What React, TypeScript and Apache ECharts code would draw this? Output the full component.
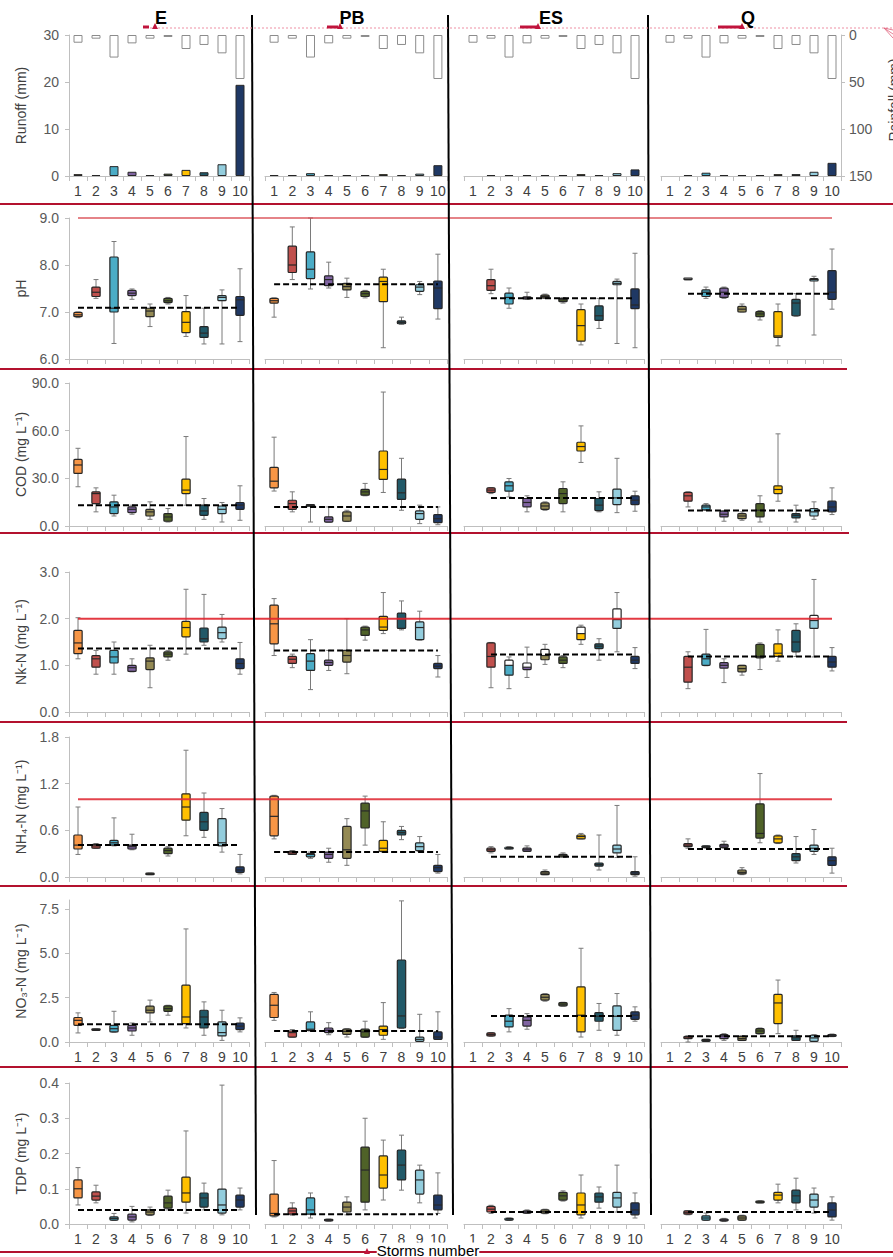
import React, { useEffect, useRef } from "react";
import * as echarts from "echarts";

const FONT = '"Liberation Sans", Arial, Helvetica, sans-serif';

const storms = ["1", "2", "3", "4", "5", "6", "7", "8", "9", "10"];
const sites = ["E", "PB", "ES", "Q"];
const stormColors = ["#F79646", "#C0504D", "#4BACC6", "#8064A2", "#948A54", "#4F6228", "#FFC000", "#215968", "#93CDDD", "#1F3864"];

// Rainfall (mm) per storm, runoff (mm) per site
const rainfall = [8.2, 3.9, 24, 8.9, 3.9, 2.1, 14.9, 10.6, 19.5, 46.8];
const runoffE = [0.4, 0.2, 2.1, 0.9, 0.2, 0.5, 1.3, 0.8, 2.5, 19.4];
const runoffPB = [0.2, 0.2, 0.6, 0.2, 0.2, 0.2, 0.4, 0.2, 0.5, 2.3];
const runoffES = [null, 0.2, 0.2, 0.2, 0.2, 0.2, 0.4, 0.2, 0.6, 1.4];
const runoffQ = [null, 0.2, 0.7, 0.2, 0.2, 0.2, 0.4, 0.4, 0.9, 2.8];

type B = number[] | null; // [low, q1, median, q3, high]

const pH_E: B[] = [[6.88, 6.9, 6.94, 6.99, 7.0], [7.29, 7.33, 7.42, 7.53, 7.69], [6.33, 7.0, 7.08, 8.17, 8.5], [7.27, 7.35, 7.4, 7.46, 7.49], [6.69, 6.9, 7.02, 7.08, 7.17], [7.17, 7.2, 7.24, 7.29, 7.31], [6.48, 6.56, 6.78, 7.01, 7.35], [6.32, 6.46, 6.55, 6.69, 7.08], [6.32, 7.24, 7.31, 7.35, 7.47], [6.37, 6.93, 7.26, 7.33, 7.92]];
const pH_PB: B[] = [[6.89, 7.19, 7.24, 7.29, 7.3], [7.69, 7.84, 8.0, 8.4, 8.81], [7.49, 7.71, 7.91, 8.28, 9.0], [7.51, 7.56, 7.69, 7.77, 8.06], [7.31, 7.47, 7.54, 7.61, 7.72], [7.3, 7.33, 7.39, 7.44, 7.46], [6.24, 7.22, 7.65, 7.74, 7.91], [6.74, 6.75, 6.78, 6.81, 6.89], [7.37, 7.44, 7.53, 7.58, 7.65], [6.85, 7.07, 7.51, 7.66, 8.23]];
const pH_ES: B[] = [null, [7.39, 7.46, 7.56, 7.69, 7.91], [7.08, 7.17, 7.31, 7.4, 7.51], [7.27, 7.28, 7.3, 7.32, 7.42], [7.29, 7.3, 7.33, 7.36, 7.38], [7.19, 7.22, 7.26, 7.29, 7.3], [6.3, 6.38, 6.71, 7.05, 7.17], [6.65, 6.82, 6.92, 7.13, 7.29], [6.33, 7.58, 7.61, 7.65, 7.7], [6.24, 7.07, 7.15, 7.49, 8.25]];
const pH_Q: B[] = [null, [7.69, 7.69, 7.69, 7.69, 7.69], [7.29, 7.33, 7.42, 7.47, 7.53], [7.29, 7.31, 7.42, 7.51, 7.53], [7.0, 7.0, 7.06, 7.12, 7.17], [6.83, 6.9, 6.96, 7.01, 7.03], [6.28, 6.46, 6.49, 7.01, 7.17], [6.91, 6.92, 7.19, 7.27, 7.39], [6.51, 7.66, 7.69, 7.71, 7.76], [7.06, 7.27, 7.42, 7.88, 8.34]];

const cod_E: B[] = [[24.7, 33.1, 38.4, 41.9, 48.9], [8.9, 14.1, 20.4, 21.5, 24.0], [6.3, 7.8, 12.0, 15.2, 19.4], [7.4, 8.4, 10.5, 12.0, 13.1], [4.2, 6.3, 8.9, 10.5, 15.2], [2.5, 3.0, 5.7, 7.8, 11.0], [13.1, 20.4, 22.6, 29.5, 56.3], [4.2, 6.7, 9.5, 13.1, 17.3], [2.5, 7.8, 10.5, 12.6, 14.8], [3.6, 10.5, 13.1, 14.8, 25.3]];
const cod_PB: B[] = [[22.0, 24.0, 28.2, 36.9, 55.9], [8.9, 10.5, 14.1, 16.2, 21.5], [2.5, 12.5, 12.8, 13.1, 13.1], [2.5, 2.5, 4.2, 5.7, 12.0], [2.8, 3.0, 6.3, 8.9, 9.9], [19.0, 19.4, 21.5, 23.0, 26.8], [21.1, 29.3, 35.6, 47.2, 84.3], [9.9, 16.7, 20.9, 29.5, 42.6], [1.5, 4.2, 7.8, 9.5, 13.1], [0.8, 2.1, 4.6, 7.2, 12.0]];
const cod_ES: B[] = [null, [20.4, 21.1, 22.6, 24.0, 24.2], [18.3, 21.9, 25.3, 27.8, 29.9], [8.9, 12.0, 14.8, 17.3, 19.0], [9.9, 10.5, 12.6, 14.5, 15.2], [8.9, 14.1, 20.4, 23.6, 27.8], [40.0, 47.2, 50.0, 52.7, 63.0], [8.9, 9.7, 13.1, 17.3, 21.5], [8.4, 13.5, 17.7, 23.2, 42.6], [9.3, 13.5, 16.2, 19.0, 21.9]];
const cod_Q: B[] = [null, [12.0, 15.6, 19.0, 21.1, 21.5], [9.9, 10.2, 12.0, 13.1, 14.1], [3.0, 5.7, 7.4, 9.3, 9.5], [3.6, 4.6, 6.3, 7.8, 8.9], [2.5, 5.7, 9.9, 14.1, 19.0], [15.6, 20.4, 23.0, 25.3, 58.0], [2.5, 5.1, 6.7, 7.8, 13.1], [4.2, 6.3, 8.9, 11.0, 15.2], [7.2, 8.9, 12.0, 15.6, 24.0]];

const nk_E: B[] = [[1.14, 1.25, 1.48, 1.75, 2.02], [0.81, 0.96, 1.14, 1.21, 1.32], [0.81, 1.05, 1.18, 1.32, 1.5], [0.86, 0.87, 0.95, 1.0, 1.14], [0.52, 0.91, 1.09, 1.16, 1.43], [1.11, 1.18, 1.24, 1.29, 1.32], [1.24, 1.61, 1.81, 1.94, 2.63], [1.43, 1.5, 1.57, 1.8, 2.52], [1.5, 1.57, 1.7, 1.82, 2.09], [0.81, 0.93, 1.04, 1.14, 1.49]];
const nk_PB: B[] = [[1.21, 1.46, 1.89, 2.29, 2.43], [0.95, 1.04, 1.13, 1.19, 1.24], [0.48, 0.89, 1.09, 1.25, 1.55], [0.89, 1.0, 1.06, 1.11, 1.32], [0.82, 1.07, 1.21, 1.32, 2.0], [1.54, 1.64, 1.76, 1.82, 1.84], [1.68, 1.75, 1.82, 2.05, 2.56], [1.76, 1.79, 2.0, 2.12, 2.38], [1.54, 1.55, 1.81, 1.93, 2.16], [0.75, 0.93, 0.98, 1.04, 1.21]];
const nk_ES: B[] = [null, [0.52, 0.96, 1.19, 1.48, 1.49], [0.5, 0.79, 1.0, 1.11, 1.18], [0.74, 0.91, 0.96, 1.05, 1.39], [1.02, 1.12, 1.21, 1.34, 1.45], [0.95, 1.04, 1.11, 1.18, 1.21], [1.45, 1.55, 1.68, 1.82, 1.86], [1.11, 1.36, 1.41, 1.46, 1.57], [1.29, 1.79, 1.98, 2.21, 2.56], [0.93, 1.04, 1.11, 1.19, 1.38]];
const nk_Q: B[] = [null, [0.5, 0.64, 0.96, 1.19, 1.29], [0.99, 1.0, 1.14, 1.24, 1.77], [0.63, 0.94, 1.0, 1.06, 1.14], [0.79, 0.86, 0.93, 1.0, 1.0], [0.91, 1.16, 1.19, 1.45, 1.48], [1.09, 1.19, 1.26, 1.46, 1.76], [1.19, 1.29, 1.5, 1.75, 1.89], [1.18, 1.79, 1.96, 2.07, 2.84], [0.88, 0.96, 1.07, 1.19, 1.38]];

const nh4_E: B[] = [[0.29, 0.36, 0.41, 0.54, 0.9], [0.37, 0.37, 0.4, 0.42, 0.43], [0.4, 0.41, 0.44, 0.47, 0.76], [0.35, 0.36, 0.39, 0.41, 0.55], [0.03, 0.03, 0.04, 0.05, 0.05], [0.27, 0.3, 0.34, 0.37, 0.39], [0.53, 0.73, 0.9, 1.07, 1.63], [0.51, 0.6, 0.71, 0.83, 1.08], [0.32, 0.4, 0.44, 0.75, 0.88], [0.04, 0.06, 0.09, 0.13, 0.29]];
const nh4_PB: B[] = [[0.49, 0.53, 0.78, 1.04, 1.05], [0.29, 0.29, 0.31, 0.33, 0.34], [0.24, 0.26, 0.29, 0.3, 0.32], [0.19, 0.24, 0.29, 0.32, 0.37], [0.15, 0.24, 0.35, 0.65, 0.75], [0.41, 0.63, 0.85, 0.95, 1.04], [0.32, 0.33, 0.37, 0.47, 0.71], [0.48, 0.54, 0.57, 0.6, 0.65], [0.33, 0.34, 0.39, 0.44, 0.52], [0.05, 0.07, 0.12, 0.15, 0.29]];
const nh4_ES: B[] = [null, [0.31, 0.33, 0.35, 0.37, 0.39], [0.36, 0.36, 0.37, 0.38, 0.39], [0.33, 0.33, 0.35, 0.37, 0.4], [0.03, 0.03, 0.05, 0.07, 0.09], [0.26, 0.26, 0.28, 0.29, 0.31], [0.49, 0.49, 0.52, 0.54, 0.56], [0.09, 0.14, 0.16, 0.18, 0.54], [0.25, 0.31, 0.36, 0.41, 0.92], [0.01, 0.03, 0.05, 0.07, 0.26]];
const nh4_Q: B[] = [null, [0.37, 0.39, 0.41, 0.43, 0.49], [0.37, 0.38, 0.39, 0.4, 0.4], [0.37, 0.38, 0.4, 0.42, 0.46], [0.03, 0.04, 0.06, 0.09, 0.12], [0.44, 0.5, 0.56, 0.94, 1.33], [0.43, 0.44, 0.49, 0.53, 0.54], [0.18, 0.21, 0.26, 0.3, 0.52], [0.29, 0.33, 0.37, 0.41, 0.61], [0.05, 0.15, 0.21, 0.26, 0.37]];

const no3_E: B[] = [[0.51, 0.94, 1.22, 1.38, 1.64], [0.66, 0.66, 0.7, 0.73, 0.73], [0.55, 0.57, 0.75, 0.94, 1.73], [0.38, 0.62, 0.79, 0.94, 1.07], [1.13, 1.64, 1.79, 2.02, 2.36], [1.51, 1.73, 1.88, 2.04, 2.07], [0.79, 1.04, 1.41, 3.2, 6.37], [0.38, 0.79, 1.41, 1.79, 2.26], [0.09, 0.34, 0.53, 1.13, 1.79], [0.57, 0.7, 0.89, 1.07, 1.36]];
const no3_PB: B[] = [[1.22, 1.38, 2.07, 2.68, 2.79], [0.28, 0.28, 0.53, 0.62, 0.7], [0.62, 0.66, 0.72, 1.13, 1.7], [0.41, 0.53, 0.66, 0.79, 1.09], [0.28, 0.43, 0.6, 0.72, 0.75], [0.26, 0.28, 0.57, 0.72, 1.17], [0.15, 0.38, 0.7, 0.9, 2.22], [0.77, 0.79, 1.47, 4.62, 7.95], [0.03, 0.04, 0.15, 0.28, 1.56], [0.15, 0.15, 0.28, 0.57, 1.7]];
const no3_ES: B[] = [null, [0.32, 0.34, 0.43, 0.51, 0.53], [0.57, 0.85, 1.17, 1.51, 1.88], [0.72, 0.9, 1.22, 1.41, 1.6], [2.3, 2.36, 2.52, 2.68, 2.72], [2.02, 2.04, 2.13, 2.22, 2.24], [0.28, 0.57, 1.51, 3.11, 5.28], [0.66, 1.17, 1.45, 1.66, 2.17], [0.38, 0.66, 1.45, 2.04, 2.73], [1.17, 1.28, 1.51, 1.7, 1.98]];
const no3_Q: B[] = [null, [0.0, 0.19, 0.28, 0.32, 0.34], [0.03, 0.04, 0.09, 0.15, 0.15], [0.09, 0.19, 0.34, 0.41, 0.47], [0.08, 0.09, 0.19, 0.32, 0.34], [0.45, 0.47, 0.62, 0.75, 0.79], [0.47, 1.04, 2.2, 2.68, 3.49], [0.09, 0.09, 0.24, 0.34, 0.66], [0.03, 0.04, 0.23, 0.38, 0.41], [0.3, 0.32, 0.38, 0.41, 0.45]];

const tdp_E: B[] = [[0.054, 0.074, 0.1, 0.125, 0.16], [0.06, 0.068, 0.079, 0.091, 0.11], [0.01, 0.011, 0.016, 0.02, 0.03], [0.006, 0.011, 0.02, 0.028, 0.05], [0.024, 0.026, 0.034, 0.04, 0.048], [0.04, 0.045, 0.06, 0.079, 0.096], [0.031, 0.062, 0.088, 0.133, 0.264], [0.04, 0.048, 0.074, 0.088, 0.116], [0.026, 0.031, 0.054, 0.099, 0.394], [0.04, 0.048, 0.068, 0.082, 0.102]];
const tdp_PB: B[] = [[0.02, 0.023, 0.03, 0.085, 0.18], [0.025, 0.028, 0.037, 0.045, 0.06], [0.017, 0.028, 0.04, 0.074, 0.088], [0.008, 0.009, 0.011, 0.013, 0.014], [0.026, 0.034, 0.048, 0.062, 0.077], [0.04, 0.062, 0.153, 0.218, 0.3], [0.068, 0.102, 0.139, 0.193, 0.238], [0.096, 0.125, 0.167, 0.21, 0.252], [0.06, 0.085, 0.125, 0.153, 0.167], [0.03, 0.04, 0.054, 0.082, 0.145]];
const tdp_ES: B[] = [null, [0.03, 0.034, 0.042, 0.05, 0.053], [0.01, 0.011, 0.014, 0.016, 0.017], [0.03, 0.031, 0.034, 0.037, 0.04], [0.029, 0.031, 0.035, 0.04, 0.042], [0.065, 0.068, 0.08, 0.09, 0.094], [0.017, 0.026, 0.054, 0.088, 0.139], [0.045, 0.062, 0.077, 0.088, 0.105], [0.034, 0.048, 0.074, 0.09, 0.167], [0.017, 0.026, 0.04, 0.06, 0.088]];
const tdp_Q: B[] = [null, [0.026, 0.028, 0.032, 0.037, 0.037], [0.01, 0.011, 0.017, 0.023, 0.031], [0.007, 0.009, 0.011, 0.014, 0.016], [0.01, 0.011, 0.017, 0.023, 0.025], [0.06, 0.06, 0.062, 0.065, 0.066], [0.06, 0.068, 0.082, 0.09, 0.113], [0.04, 0.06, 0.08, 0.096, 0.13], [0.031, 0.048, 0.068, 0.085, 0.102], [0.011, 0.02, 0.04, 0.06, 0.077]];

// dashed reference levels per site (E, PB, ES, Q)
const pHMean = [7.09, 7.59, 7.29, 7.39];
const codMean = [13.1, 12.0, 17.7, 9.7];
const nkMean = [1.36, 1.32, 1.23, 1.19];
const nh4Mean = [0.41, 0.32, 0.26, 0.36];
const no3Mean = [1.0, 0.62, 1.47, 0.32];
const tdpMean = [0.04, 0.028, 0.034, 0.034];

// threshold (red) lines
const pHLimit = 9.0;
const nkLimit = 2.0;
const nh4Limit = 1.0;

// storms whose box has a white upper half (per row key, per site)
const whiteTop: Record<string, number[][]> = {
  nk: [[], [], [3, 4, 5, 7, 9], [9]],
};

// ---------------- layout (style only) ----------------
const colL = [69, 265, 464, 661];
const colW = [180, 182, 180, 180];
const rowsTB = [[35, 176], [218, 359], [383, 526], [572, 712], [737, 877], [900, 1042], [1083, 1224]];

const rowsCfg = [
  { key: "runoff", name: "Runoff (mm)", min: 0, max: 30, interval: 10, dec: 0, xLabels: true },
  { key: "ph", name: "pH", min: 6, max: 9, interval: 1, dec: 1, xLabels: false, boxes: [pH_E, pH_PB, pH_ES, pH_Q], mean: pHMean },
  { key: "cod", name: "COD (mg L\u207B\u00B9)", min: 0, max: 90, interval: 30, dec: 1, xLabels: false, boxes: [cod_E, cod_PB, cod_ES, cod_Q], mean: codMean },
  { key: "nk", name: "Nk-N (mg L\u207B\u00B9)", min: 0, max: 3, interval: 1, dec: 1, xLabels: false, boxes: [nk_E, nk_PB, nk_ES, nk_Q], mean: nkMean },
  { key: "nh4", name: "NH\u2084-N (mg L\u207B\u00B9)", min: 0, max: 1.8, interval: 0.6, dec: 1, xLabels: false, boxes: [nh4_E, nh4_PB, nh4_ES, nh4_Q], mean: nh4Mean },
  { key: "no3", name: "NO\u2083-N (mg L\u207B\u00B9)", min: 0, max: 8, interval: 2.5, dec: 1, xLabels: true, boxes: [no3_E, no3_PB, no3_ES, no3_Q], mean: no3Mean, hideMax: true },
  { key: "tdp", name: "TDP (mg L\u207B\u00B9)", min: 0, max: 0.4, interval: 0.1, dec: 1, xLabels: true, boxes: [tdp_E, tdp_PB, tdp_ES, tdp_Q], mean: tdpMean },
];

const runoffs = [runoffE, runoffPB, runoffES, runoffQ];

const renderBox = (_params: any, api: any) => {
  const i = api.value(0);
  const pLow = api.coord([i, api.value(1)]);
  const pQ1 = api.coord([i, api.value(2)]);
  const pMed = api.coord([i, api.value(3)]);
  const pQ3 = api.coord([i, api.value(4)]);
  const pHigh = api.coord([i, api.value(5)]);
  const wt = api.value(6) === 1;
  const color = stormColors[i];
  const cx = pLow[0];
  const bw = api.size([1, 0])[0] * 0.46;
  const cw = bw * 0.6;
  const x0 = cx - bw / 2;
  const stroke = "#262626";
  const wh = "#7a7a7a";
  return {
    type: "group",
    children: [
      { type: "line", shape: { x1: cx, y1: pHigh[1], x2: cx, y2: pLow[1] }, style: { stroke: wh, lineWidth: 1 } },
      { type: "line", shape: { x1: cx - cw / 2, y1: pHigh[1], x2: cx + cw / 2, y2: pHigh[1] }, style: { stroke: wh, lineWidth: 1 } },
      { type: "line", shape: { x1: cx - cw / 2, y1: pLow[1], x2: cx + cw / 2, y2: pLow[1] }, style: { stroke: wh, lineWidth: 1 } },
      { type: "rect", shape: { x: x0, y: pQ3[1], width: bw, height: Math.max(pMed[1] - pQ3[1], 0) }, style: { fill: wt ? "#ffffff" : color } },
      { type: "rect", shape: { x: x0, y: pMed[1], width: bw, height: Math.max(pQ1[1] - pMed[1], 0) }, style: { fill: color } },
      { type: "rect", shape: { x: x0, y: Math.min(pQ3[1], pQ1[1] - 1.5), width: bw, height: Math.max(pQ1[1] - pQ3[1], 1.5), r: 1 }, style: { fill: "none", stroke, lineWidth: 1.2 } },
      { type: "line", shape: { x1: x0, y1: pMed[1], x2: x0 + bw, y2: pMed[1] }, style: { stroke, lineWidth: 1.2 } },
    ],
  };
};

function buildOption() {
  const grid: any[] = [];
  const xAxis: any[] = [];
  const yAxis: any[] = [];
  const series: any[] = [];
  rowsCfg.forEach((rc, r) => {
    for (let c = 0; c < 4; c++) {
      const g = r * 4 + c;
      grid.push({ left: colL[c], top: rowsTB[r][0], width: colW[c], height: rowsTB[r][1] - rowsTB[r][0] });
      xAxis.push({
        type: "category", gridIndex: g, data: storms, boundaryGap: true,
        axisLine: { show: true, lineStyle: { color: "#BFBFBF", width: 1 } },
        axisTick: { show: true, length: 5, lineStyle: { color: "#BFBFBF" } },
        axisLabel: { show: rc.xLabels, interval: 0, fontSize: 14, color: "#404040", fontFamily: FONT, margin: 8 },
        splitLine: { show: false },
      });
      const first = c === 0;
      yAxis.push({
        type: "value", gridIndex: g, min: rc.min, max: rc.max, interval: rc.interval,
        axisLine: { show: first, lineStyle: { color: "#BFBFBF" } },
        axisTick: { show: first, length: 4, lineStyle: { color: "#BFBFBF" } },
        axisLabel: {
          show: first, fontSize: 14, color: "#595959", fontFamily: FONT, margin: 10,
          showMaxLabel: rc.hideMax ? false : undefined,
          formatter: (v: number) => v.toFixed(rc.dec),
        },
        splitLine: { show: false },
        name: first ? rc.name : "",
        nameLocation: "middle", nameGap: 41, nameRotate: 90,
        nameTextStyle: { fontSize: 14, color: "#404040", fontFamily: FONT },
      });
    }
  });
  // rainfall axes (inverse) for the runoff row
  for (let c = 0; c < 4; c++) {
    const show = c === 3;
    yAxis.push({
      type: "value", gridIndex: c, position: "right", inverse: true, min: 0, max: 150, interval: 50,
      axisLine: { show, lineStyle: { color: "#BFBFBF" } },
      axisTick: { show, length: 4, lineStyle: { color: "#BFBFBF" } },
      axisLabel: { show, fontSize: 14, color: "#595959", fontFamily: FONT, margin: 8 },
      splitLine: { show: false },
    });
  }
  // runoff + rainfall bars
  for (let c = 0; c < 4; c++) {
    series.push({
      type: "bar", xAxisIndex: c, yAxisIndex: 28 + c, barWidth: 9, barGap: "-100%",
      data: rainfall,
      itemStyle: { color: "#ffffff", borderColor: "#8c8c8c", borderWidth: 1 },
      z: 2,
    });
    series.push({
      type: "bar", xAxisIndex: c, yAxisIndex: c, barWidth: 9, barGap: "-100%",
      data: runoffs[c].map((v, i) => (v == null ? null : { value: v, itemStyle: { color: stormColors[i] } })),
      itemStyle: { borderColor: "#262626", borderWidth: 1 },
      z: 3,
    });
  }
  // boxplots + dashed means
  rowsCfg.forEach((rc: any, r) => {
    if (!rc.boxes) return;
    for (let c = 0; c < 4; c++) {
      const g = r * 4 + c;
      const list: B[] = rc.boxes[c];
      const wt = (whiteTop[rc.key] && whiteTop[rc.key][c]) || [];
      const data = list
        .map((b, i) => (b ? { value: [i, b[0], b[1], b[2], b[3], b[4], wt.includes(i + 1) ? 1 : 0] } : null))
        .filter((d) => d !== null);
      series.push({
        type: "custom", xAxisIndex: g, yAxisIndex: g, renderItem: renderBox,
        encode: { x: 0, y: [1, 2, 3, 4, 5] }, data, z: 3,
      });
      series.push({
        type: "line", xAxisIndex: g, yAxisIndex: g, symbol: "none", silent: true,
        data: list.map((b) => (b ? rc.mean[c] : null)),
        lineStyle: { color: "#000000", width: 2, type: [6, 3] }, z: 4,
      });
    }
  });
  return { animation: false, backgroundColor: "#ffffff", grid, xAxis, yAxis, series };
}

function buildGraphics(chart: any) {
  const red = "#B3112E";
  const els: any[] = [];
  // horizontal row separators
  const seps: [number, number][] = [[204, 893], [369, 847], [533, 849], [722, 847], [886, 847], [1067, 848], [1252, 893]];
  seps.forEach(([y, x2]) => els.push({ type: "line", shape: { x1: 0, y1: y, x2, y2: y }, style: { stroke: red, lineWidth: 2 }, z: 20 }));
  // vertical black separators
  const vs = [[252, 256], [448, 453], [648, 651]];
  vs.forEach(([a, b]) => els.push({ type: "line", shape: { x1: a, y1: 15, x2: b, y2: 1215 }, style: { stroke: "#000000", lineWidth: 2 }, z: 20 }));
  // top dotted line and markers
  els.push({ type: "line", shape: { x1: 150, y1: 28, x2: 893, y2: 28 }, style: { stroke: "#EE8FA3", lineWidth: 1, lineDash: [2, 2] }, z: 20 });
  const marks = [[143, 149, 155], [327, 338, 340], [520, 537, 538], [718, 741, 742]];
  marks.forEach(([a, b, t]) => {
    els.push({ type: "line", shape: { x1: a, y1: 27, x2: b, y2: 27 }, style: { stroke: "#C0143C", lineWidth: 3 }, z: 21 });
    els.push({ type: "polygon", shape: { points: [[t - 3, 29], [t + 3, 29], [t, 23]] }, style: { fill: "#C0143C" }, z: 21 });
  });
  [30, 34, 38].forEach((y) => els.push({ type: "line", shape: { x1: 884, y1: 28, x2: 893, y2: y }, style: { stroke: "#E0607A", lineWidth: 0.8 }, z: 21 }));
  // site titles
  const tx = [161, 352, 551, 748];
  sites.forEach((s, i) =>
    els.push({ type: "text", x: tx[i], y: 18, z: 22, style: { text: s, fill: "#000000", fontSize: 18, fontWeight: "bold", fontFamily: FONT, align: "center", verticalAlign: "middle", textAlign: "center", textVerticalAlign: "middle" } })
  );
  // right axis title (cut by the page edge as in the source)
  els.push({ type: "text", x: 894, y: 100, rotation: Math.PI / 2, z: 22, style: { text: "Rainfall (mm)", fill: "#404040", fontSize: 14, fontFamily: FONT, align: "center", verticalAlign: "middle", textAlign: "center", textVerticalAlign: "middle" } });
  // x axis title
  els.push({ type: "text", x: 428, y: 1250, z: 22, style: { text: "Storms number", fill: "#000000", fontSize: 15, fontFamily: FONT, align: "center", verticalAlign: "middle", textAlign: "center", textVerticalAlign: "middle", backgroundColor: "#ffffff" } });
  els.push({ type: "polygon", shape: { points: [[364, 1254], [370, 1254], [367, 1248]] }, style: { fill: "#C0143C" }, z: 23 });
  // threshold lines computed through the axes
  const lim = [
    { r: 1, v: pHLimit, w: 1.5, col: "#D8474F" },
    { r: 3, v: nkLimit, w: 2, col: "#E0242E" },
    { r: 4, v: nh4Limit, w: 2, col: "#E0303A" },
  ];
  lim.forEach(({ r, v, w, col }) => {
    const gE = r * 4;
    const gQ = r * 4 + 3;
    const y = chart.convertToPixel({ yAxisIndex: gE }, v);
    const x1 = chart.convertToPixel({ xAxisIndex: gE }, storms[0]);
    const x2 = chart.convertToPixel({ xAxisIndex: gQ }, storms[9]);
    els.push({ type: "line", shape: { x1, y1: y, x2, y2: y }, style: { stroke: col, lineWidth: w, opacity: 0.9 }, z: 15 });
  });
  return els;
}

export default function App() {
  const ref = useRef<HTMLDivElement>(null);
  useEffect(() => {
    const chart = echarts.init(ref.current!, null, { renderer: "svg" });
    chart.setOption(buildOption() as any);
    chart.setOption({ graphic: { elements: buildGraphics(chart) } } as any);
    return () => chart.dispose();
  }, []);
  return <div ref={ref} style={{ position: "absolute", left: 0, top: 0, width: 893, height: 1257, background: "#ffffff" }} />;
}
